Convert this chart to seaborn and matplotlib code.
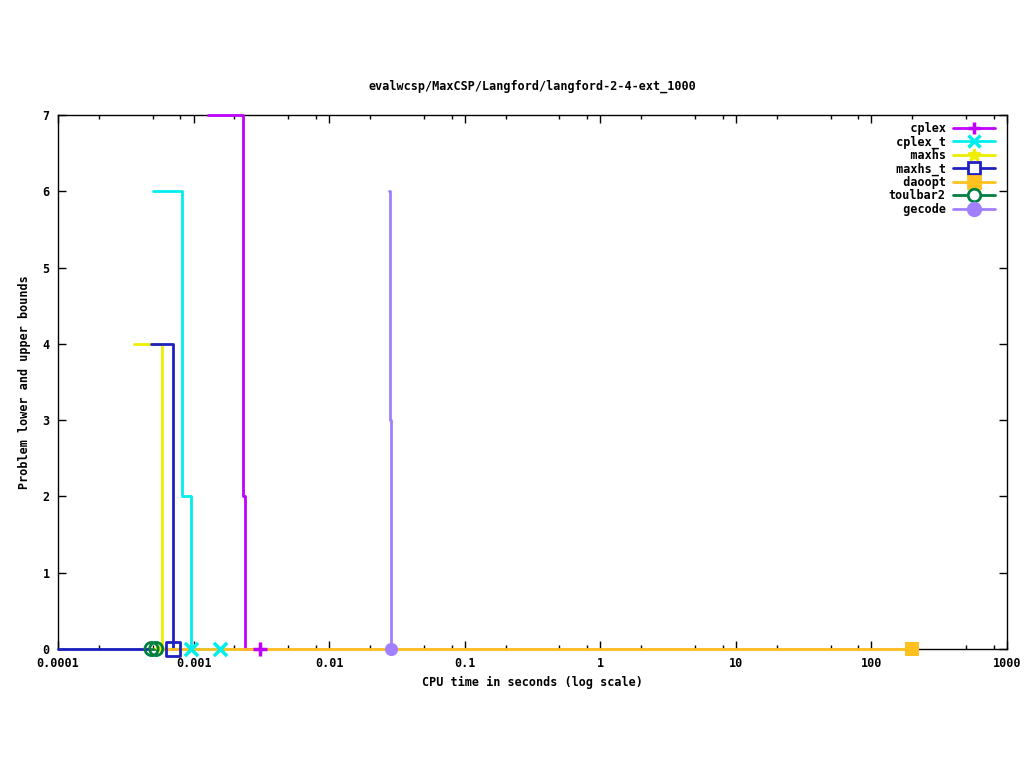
import matplotlib
matplotlib.use('Agg')
import matplotlib.pyplot as plt
from matplotlib.lines import Line2D
from matplotlib.ticker import FixedLocator, FuncFormatter, LogLocator, NullFormatter
import seaborn as sns
import pandas as pd

TITLE = 'evalwcsp/MaxCSP/Langford/langford-2-4-ext_1000'
SOLVERS = ['cplex', 'cplex_t', 'maxhs', 'maxhs_t', 'daoopt', 'toulbar2', 'gecode']
COLORS = ['#c000ff', '#00eeee', '#eeee00', '#2020c0', '#ffc020', '#008040', '#a080ff']
MARKERS = ['+', 'x', '*', 's', 's', 'o', 'o']
FILLED = [True, True, True, False, True, False, True]
X_TICKS = [1e-4, 1e-3, 1e-2, 1e-1, 1, 10, 100, 1000]

# upper bound steps (time in s, bound)
cplex_time = [0.00128, 0.00232, 0.00239, 0.0031]
cplex_bound = [7, 2, 0, 0]
cplex_t_time = [0.000502, 0.000822, 0.000957, 0.00157]
cplex_t_bound = [6, 2, 0, 0]
maxhs_time = [0.000364, 0.000585]
maxhs_bound = [4, 0]
maxhs_t_time = [0.000486, 0.000705]
maxhs_t_bound = [4, 0]
daoopt_time = [0.00049, 199]
daoopt_bound = [0, 0]
toulbar2_time = [0.00049, 0.00053]
toulbar2_bound = [0, 0]
gecode_time = [0.0276, 0.0283, 0.0286]
gecode_bound = [6, 3, 0]

# lower bound line from the start of the time axis
lb_time = [0.0001, 0.00049]
lb_bound = [0, 0]

# marked points (final results)
mark_solver = ['cplex', 'cplex_t', 'cplex_t', 'maxhs', 'maxhs_t', 'daoopt',
               'toulbar2', 'toulbar2', 'gecode']
mark_time = [0.0031, 0.000957, 0.00157, 0.00056, 0.000705, 199,
             0.00049, 0.00053, 0.0286]
mark_bound = [0, 0, 0, 0, 0, 0, 0, 0, 0]

series = {
    'cplex': (cplex_time, cplex_bound),
    'cplex_t': (cplex_t_time, cplex_t_bound),
    'maxhs': (maxhs_time, maxhs_bound),
    'maxhs_t': (maxhs_t_time, maxhs_t_bound),
    'daoopt': (daoopt_time, daoopt_bound),
    'toulbar2': (toulbar2_time, toulbar2_bound),
    'gecode': (gecode_time, gecode_bound),
}

sns.set_style('white')
plt.rcParams['font.family'] = ['DejaVu Sans Mono']
plt.rcParams['font.size'] = 8.5
plt.rcParams['font.weight'] = 'bold'
plt.rcParams['text.color'] = 'black'
plt.rcParams['axes.labelcolor'] = 'black'
plt.rcParams['xtick.color'] = 'black'
plt.rcParams['ytick.color'] = 'black'

fig = plt.figure(figsize=(10.24, 7.68), dpi=100)
ax = fig.add_axes([58 / 1024, 119 / 768, 949 / 1024, 534 / 768])

sns.lineplot(x=lb_time, y=lb_bound, color=COLORS[3], lw=2, ax=ax,
             drawstyle='steps-post', clip_on=False, sort=False)

for name, color in zip(SOLVERS, COLORS):
    t, b = series[name]
    sns.lineplot(x=t, y=b, color=color, lw=2, ax=ax, drawstyle='steps-post',
                 clip_on=False, sort=False, estimator=None)

marks = pd.DataFrame({'solver': mark_solver, 'time': mark_time, 'bound': mark_bound})
for name, color, mk, filled in zip(SOLVERS, COLORS, MARKERS, FILLED):
    sub = marks[marks['solver'] == name]
    if sub.empty:
        continue
    if mk in ('+', 'x'):
        kw = dict(color=color, linewidth=2.5)
    elif filled:
        kw = dict(color=color, edgecolor=color, linewidth=0)
    else:
        kw = dict(facecolor='none', edgecolor=color, linewidth=2)
    sns.scatterplot(data=sub, x='time', y='bound', marker=mk, s=90, ax=ax,
                    clip_on=False, zorder=3, legend=False, **kw)

ax.set_xscale('log')
ax.set_xlim(1e-4, 1e3)
ax.set_ylim(0, 7)
ax.xaxis.set_major_locator(FixedLocator(X_TICKS))
ax.xaxis.set_major_formatter(FuncFormatter(lambda v, p: '%g' % v))
ax.xaxis.set_minor_locator(LogLocator(base=10, subs=[2, 5, 8], numticks=20))
ax.xaxis.set_minor_formatter(NullFormatter())
ax.set_yticks(range(0, 8))
ax.tick_params(which='major', direction='in', length=6, width=1, top=True, right=True,
               bottom=True, left=True, labelsize=8.5, pad=6)
ax.tick_params(which='minor', direction='in', length=3, width=1, top=True, bottom=True)
for sp in ax.spines.values():
    sp.set_color('black')
    sp.set_linewidth(1)
    sp.set_zorder(1)

ax.set_title(TITLE, fontsize=8.5, fontweight='bold', pad=18)
ax.set_xlabel('CPU time in seconds (log scale)', fontsize=8.5, fontweight='bold', labelpad=4)
ax.set_ylabel('Problem lower and upper bounds', fontsize=8.5, fontweight='bold', labelpad=8)

handles = []
for name, color, mk, filled in zip(SOLVERS, COLORS, MARKERS, FILLED):
    handles.append(Line2D([0], [0], color=color, lw=2, marker=mk, markersize=9,
                          markeredgewidth=2.5 if mk in ('+', 'x') else 2,
                          markerfacecolor=color if filled else 'white',
                          markeredgecolor=color))
labels = [s.rjust(8) for s in SOLVERS]
leg = ax.legend(handles, labels, loc='upper right', bbox_to_anchor=(0.995, 1.0),
                frameon=False, markerfirst=False, handlelength=3.6, labelspacing=0.03,
                handletextpad=0.6, borderaxespad=0.2,
                prop={'family': 'DejaVu Sans Mono', 'weight': 'bold', 'size': 8.5})

fig.savefig('out.png', dpi=100)
